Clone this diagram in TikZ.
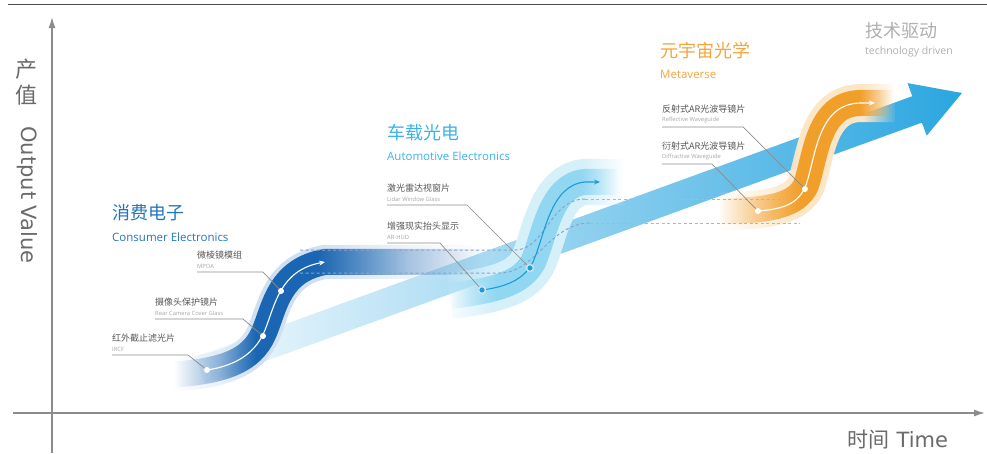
\documentclass[tikz,border=0pt]{standalone}
\usepackage{fontspec}
\setmainfont{Open Sans}
\newfontfamily\cjk{Noto Sans CJK SC}
\newfontfamily\axisfont{DejaVu Sans}
\usetikzlibrary{arrows.meta, positioning, fadings}

\definecolor{framegray}{HTML}{4A4A4A}
\definecolor{axisgray}{HTML}{8C8C8C}
\definecolor{axistxt}{HTML}{6A6A6A}
\definecolor{bandblue}{HTML}{2AA6E0}
\definecolor{consumerblue}{HTML}{1B66B2}
\definecolor{consumertxt}{HTML}{2474BC}
\definecolor{autocyan}{HTML}{8AD5F2}
\definecolor{autotxt}{HTML}{3BB3E6}
\definecolor{autodot}{HTML}{1E9BD8}
\definecolor{metaorange}{HTML}{F19A1E}
\definecolor{metatxt}{HTML}{F2A53C}
\definecolor{techgray}{HTML}{AFAFAF}
\definecolor{tagdark}{HTML}{555555}
\definecolor{taglight}{HTML}{A5A5A5}
\definecolor{leadergray}{HTML}{8C8C8C}
\definecolor{dashblue}{HTML}{8AA3CC}
\definecolor{dashred}{HTML}{E8A098}

% ribbon masks, white = opaque, black = gone
\pgfdeclarehorizontalshading{consumermask}{300bp}{color(0bp)=(black); color(28bp)=(black); color(34bp)=(black!55); color(38.5bp)=(white); color(46.5bp)=(white); color(58bp)=(black!65); color(68bp)=(black); color(100bp)=(black)}
\pgfdeclarefading{consumerfade}{\pgfuseshading{consumermask}}
\pgfdeclarehorizontalshading{automask}{300bp}{color(0bp)=(black); color(28bp)=(black); color(34bp)=(black!45); color(39bp)=(white); color(59bp)=(white); color(68bp)=(black); color(100bp)=(black)}
\pgfdeclarefading{autofade}{\pgfuseshading{automask}}
\pgfdeclarehorizontalshading{metamask}{300bp}{color(0bp)=(black); color(28bp)=(black); color(40bp)=(black!40); color(48bp)=(white); color(63bp)=(white); color(71bp)=(black); color(100bp)=(black)}
\pgfdeclarefading{metafade}{\pgfuseshading{metamask}}

\newcommand{\tagcn}[1]{{\cjk\fontsize{9}{9.5}\selectfont\color{tagdark}#1}}

\begin{document}
\begin{tikzpicture}[x=1pt, y=-1pt,
    axis/.style={axisgray, line width=1.4pt, -{Latex[length=11pt, width=7pt]}},
    ribbon/.style={line width=26pt, fit fading},
    rail/.style={line width=1pt, dash pattern=on 3pt off 2.5pt},
    flow/.style={line width=1.1pt, -{Stealth[length=6pt, width=5pt]}},
    wdot/.style={circle, fill=white, inner sep=0pt, minimum size=6pt},
    bdot/.style={circle, fill=autodot, draw=autodot!25, line width=1.5pt, inner sep=0pt, minimum size=7pt},
    leader/.style={leadergray, line width=0.7pt},
    tag/.style={inner sep=0pt, align=left, text=taglight, font=\fontsize{5.8}{9.5}\selectfont},
    sectcn/.style={anchor=west, inner sep=0pt, font=\cjk\fontsize{18}{18}\selectfont},
    secten/.style={anchor=west, inner sep=0pt, font=\fontsize{11.5}{12}\selectfont},
    axislbl/.style={inner sep=0pt, text=axistxt, font=\axisfont\fontsize{21}{23}\selectfont}
]
\useasboundingbox (0,0) rectangle (987,453);

% frame and axes
\draw[framegray, line width=0.9pt] (8,4) -- (987,4);
\draw[axis] (52,453) -- (52,17);
\draw[axis] (13,413) -- (985,413);
\node[axislbl, font=\cjk\fontsize{22}{26}\selectfont, align=center] (ycn) at (27,82) {产\\值};
\node[axislbl, rotate=-90] (yen) at (27,195) {Output Value};
\node[axislbl] (xlbl) at (898,440) {{\cjk 时间} Time};

% main growth arrow
\shade[left color=bandblue!5, right color=bandblue]
  (204.8,383.2) -- (921.9,122.6) -- (926.7,135.7) -- (962,93)
  -- (907.5,83.1) -- (912.3,96.2) -- (195.2,356.8) -- cycle;

% consumer electronics ribbon
\draw[ribbon, line width=34pt, consumerblue!20, path fading=consumerfade]
  (165,375) .. controls (235,372) and (255,355) .. (265,330)
  .. controls (275,305) and (280,270) .. (325,262) -- (525,262);
\draw[ribbon, consumerblue, path fading=consumerfade]
  (165,375) .. controls (235,372) and (255,355) .. (265,330)
  .. controls (275,305) and (280,270) .. (325,262) -- (525,262);

% automotive ribbon
\draw[ribbon, line width=46pt, autocyan!35, path fading=autofade]
  (450,296) .. controls (500,290) and (522,282) .. (533,262)
  .. controls (545,235) and (550,185) .. (585,182) -- (635,182);
\draw[ribbon, autocyan, opacity=0.9, path fading=autofade]
  (450,296) .. controls (500,290) and (522,282) .. (533,262)
  .. controls (545,235) and (550,185) .. (585,182) -- (635,182);

% metaverse ribbon
\draw[ribbon, line width=38pt, metaorange!25, path fading=metafade]
  (720,211) .. controls (770,211) and (797,205) .. (806,185)
  .. controls (816,155) and (818,104) .. (860,103) -- (895,103);
\draw[ribbon, metaorange, opacity=0.92, path fading=metafade]
  (720,211) .. controls (770,211) and (797,205) .. (806,185)
  .. controls (816,155) and (818,104) .. (860,103) -- (895,103);

% dashed rails between the stages
\draw[rail, dashblue] (300,250) -- (515,250) .. controls (545,250) and (550,199) .. (585,199);
\draw[rail, dashred] (585,199) -- (790,199);
\draw[rail, dashblue] (300,273) -- (500,273) .. controls (535,273) and (550,223) .. (590,223);
\draw[rail, dashred] (590,223) -- (800,223);

% flow lines
\draw[flow, white] (207,370) .. controls (240,365) and (257,350) .. (265,330)
  .. controls (275,305) and (280,270) .. (325,262);
\draw[flow, autodot] (482,290) .. controls (505,287) and (524,280) .. (533,262)
  .. controls (545,235) and (550,185) .. (585,182) -- (600,182);
\draw[flow, white] (758,211) .. controls (785,209) and (799,203) .. (806,185)
  .. controls (816,155) and (818,104) .. (860,103) -- (875,103);

% product dots
\node[wdot] (d11) at (207,370) {};
\node[wdot] (d12) at (263,336) {};
\node[wdot] (d13) at (281,291) {};
\node[bdot] (d21) at (482,290) {};
\node[bdot] (d22) at (530,268) {};
\node[wdot] (d31) at (758,211) {};
\node[wdot] (d32) at (805,189) {};

% product tags
\coordinate (u11) at (112,355);
\coordinate (u12) at (155,319);
\coordinate (u13) at (197,272);
\coordinate (u21) at (387,243);
\coordinate (u22) at (387,205);
\coordinate (u31) at (662,164);
\coordinate (u32) at (662,127);

\node[tag, above right=3.5pt and 0pt of u11] (t11) {\tagcn{红外截止滤光片}\\IRCF};
\node[tag, above right=3.5pt and 0pt of u12] (t12) {\tagcn{摄像头保护镜片}\\Rear Camera Cover Glass};
\node[tag, above right=3.5pt and 0pt of u13] (t13) {\tagcn{微棱镜模组}\\MPOA};
\node[tag, above right=3.5pt and 0pt of u21] (t21) {\tagcn{增强现实抬头显示}\\AR-HUD};
\node[tag, above right=3.5pt and 0pt of u22] (t22) {\tagcn{激光雷达视窗片}\\Lidar Window Glass};
\node[tag, above right=3.5pt and 0pt of u31] (t31) {\tagcn{衍射式AR光波导镜片}\\Diffractive Waveguide};
\node[tag, above right=3.5pt and 0pt of u32] (t32) {\tagcn{反射式AR光波导镜片}\\Reflective Waveguide};

\draw[leader] (u11) -- ++(76,0) -- (d11);
\draw[leader] (u12) -- ++(88,0) -- (d12);
\draw[leader] (u13) -- ++(66,0) -- (d13);
\draw[leader] (u21) -- ++(53,0) -- (d21);
\draw[leader] (u22) -- ++(80,0) -- (d22);
\draw[leader] (u31) -- ++(50,0) -- (d31);
\draw[leader] (u32) -- ++(81,0) -- (d32);

% stage titles
\node[sectcn, text=consumertxt] (consumer) at (112,213) {消费电子};
\node[secten, text=consumertxt] (consumeren) at (112,237) {Consumer Electronics};
\node[sectcn, text=autotxt] (auto) at (387,133) {车载光电};
\node[secten, text=autotxt] (autoen) at (387,156) {Automotive Electronics};
\node[sectcn, text=metatxt] (meta) at (660,51) {元宇宙光学};
\node[secten, text=metatxt] (metaen) at (660,74) {Metaverse};
\node[sectcn, text=techgray] (tech) at (865,31) {技术驱动};
\node[secten, text=techgray, font=\fontsize{10.5}{11}\selectfont] (techen) at (865,52) {technology driven};

\end{tikzpicture}
\end{document}
